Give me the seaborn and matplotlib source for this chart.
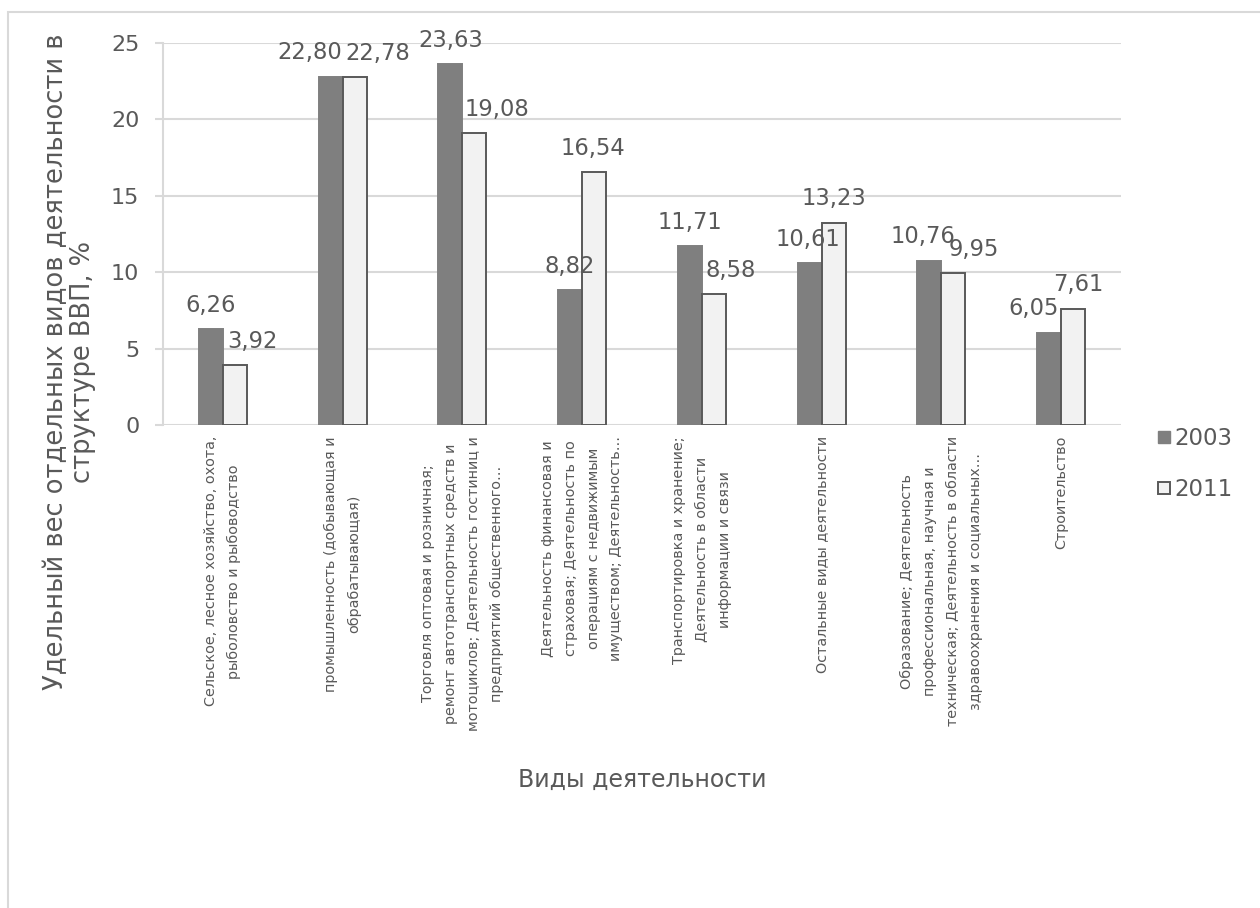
import matplotlib
matplotlib.use("Agg")
import matplotlib.pyplot as plt
from matplotlib.lines import Line2D
from matplotlib.patches import Rectangle
import seaborn as sns
import pandas as pd

# --- data -------------------------------------------------------------
categories = [
    "Сельское, лесное хозяйство, охота,\nрыболовство и рыбоводство",
    "промышленность (добывающая и\nобрабатывающая)",
    "Торговля оптовая и розничная;\nремонт автотранспортных средств и\nмотоциклов; Деятельность гостиниц и\nпредприятий общественного…",
    "Деятельность финансовая и\nстраховая; Деятельность по\nоперациям с недвижимым\nимуществом; Деятельность…",
    "Транспортировка и хранение;\nДеятельность в области\nинформации и связи",
    "Остальные виды деятельности",
    "Образование; Деятельность\nпрофессиональная, научная и\nтехническая; Деятельность в области\nздравоохранения и социальных…",
    "Строительство",
]
years = ["2003", "2011"]
values_2003 = [6.26, 22.80, 23.63, 8.82, 11.71, 10.61, 10.76, 6.05]
values_2011 = [3.92, 22.78, 19.08, 16.54, 8.58, 13.23, 9.95, 7.61]
y_ticks = [0, 5, 10, 15, 20, 25]

# horizontal nudges of the value labels (points)
label_dx = {
    "2003": [0, -15, 0, 0, 0, -1, -5, -11],
    "2011": [13, 17, 16, -1, 12, 0, 15, 4],
}

df = pd.DataFrame({
    "category": categories * 2,
    "year": [years[0]] * len(categories) + [years[1]] * len(categories),
    "value": values_2003 + values_2011,
})

# --- style ------------------------------------------------------------
sns.set_style("white")
plt.rcParams["font.family"] = ["DejaVu Sans"]
TEXT = "#595959"
GRID = "#d9d9d9"
fill = {"2003": "#7f7f7f", "2011": "#f2f2f2"}

W, H = 1260, 908
fig = plt.figure(figsize=(W / 100, H / 100), dpi=100)
ax = fig.add_axes([163 / W, 1 - 425 / H, (1121 - 163) / W, (425 - 43) / H])

sns.barplot(data=df, x="category", y="value", hue="year", hue_order=years,
            palette=fill, width=0.4, saturation=1, legend=False, ax=ax,
            edgecolor="#595959", linewidth=1.4)

# the dark series has no visible outline
for bar in ax.containers[0]:
    bar.set_edgecolor(fill["2003"])

# value labels
for year, container in zip(years, ax.containers):
    for i, bar in enumerate(container):
        v = bar.get_height()
        ax.annotate(f"{v:.2f}".replace(".", ","),
                    xy=(bar.get_x() + bar.get_width() / 2, v),
                    xytext=(label_dx[year][i], 12.5), textcoords="offset points",
                    ha="center", va="baseline", fontsize=16.3, color=TEXT)

# axes
ax.set_ylim(0, 25)
ax.set_xlim(-0.5, len(categories) - 0.5)
ax.set_yticks(y_ticks)
ax.set_yticklabels([str(t) for t in y_ticks], fontsize=16, color=TEXT)
ax.yaxis.grid(True, color=GRID, linewidth=1.5)
ax.set_axisbelow(True)
for side in ["top", "right", "bottom"]:
    ax.spines[side].set_visible(False)
ax.spines["left"].set_color(GRID)
ax.spines["left"].set_linewidth(1.5)
ax.tick_params(axis="y", length=6, width=1.5, color=GRID, pad=11, left=True)
ax.tick_params(axis="x", length=0, pad=8)
ax.set_xticks(range(len(categories)))
ax.set_xticklabels(categories, rotation=90, ha="center", va="top",
                   multialignment="center", fontsize=10.4, color=TEXT,
                   linespacing=1.8)
ax.set_xlabel("")
ax.set_ylabel("")

# axis titles
fig.text(70 / W, 1 - 362 / H,
         "Удельный вес отдельных видов деятельности в\nструктуре ВВП, %",
         rotation=90, ha="center", va="center", multialignment="center",
         fontsize=18.5, color=TEXT, linespacing=1.05)
fig.text(642 / W, 1 - 780 / H, "Виды деятельности",
         ha="center", va="center", fontsize=17, color=TEXT)

# legend
handles = [
    Line2D([], [], marker="s", linestyle="none", markersize=9,
           markerfacecolor=fill["2003"], markeredgecolor=fill["2003"]),
    Line2D([], [], marker="s", linestyle="none", markersize=9,
           markerfacecolor=fill["2011"], markeredgecolor="#595959",
           markeredgewidth=1.4),
]
fig.legend(handles, years, loc="center left",
           bbox_to_anchor=(1146 / W, 1 - 464 / H), frameon=False,
           fontsize=16.5, labelcolor=TEXT, handletextpad=0.05,
           handlelength=0.8, labelspacing=1.2, borderaxespad=0)

# chart-area border
fig.patches.append(Rectangle((8 / W, -0.1), 1.2, 1.1 - 12 / H,
                             transform=fig.transFigure, fill=False,
                             edgecolor=GRID, linewidth=1.5))

fig.savefig("out.png", dpi=100)
